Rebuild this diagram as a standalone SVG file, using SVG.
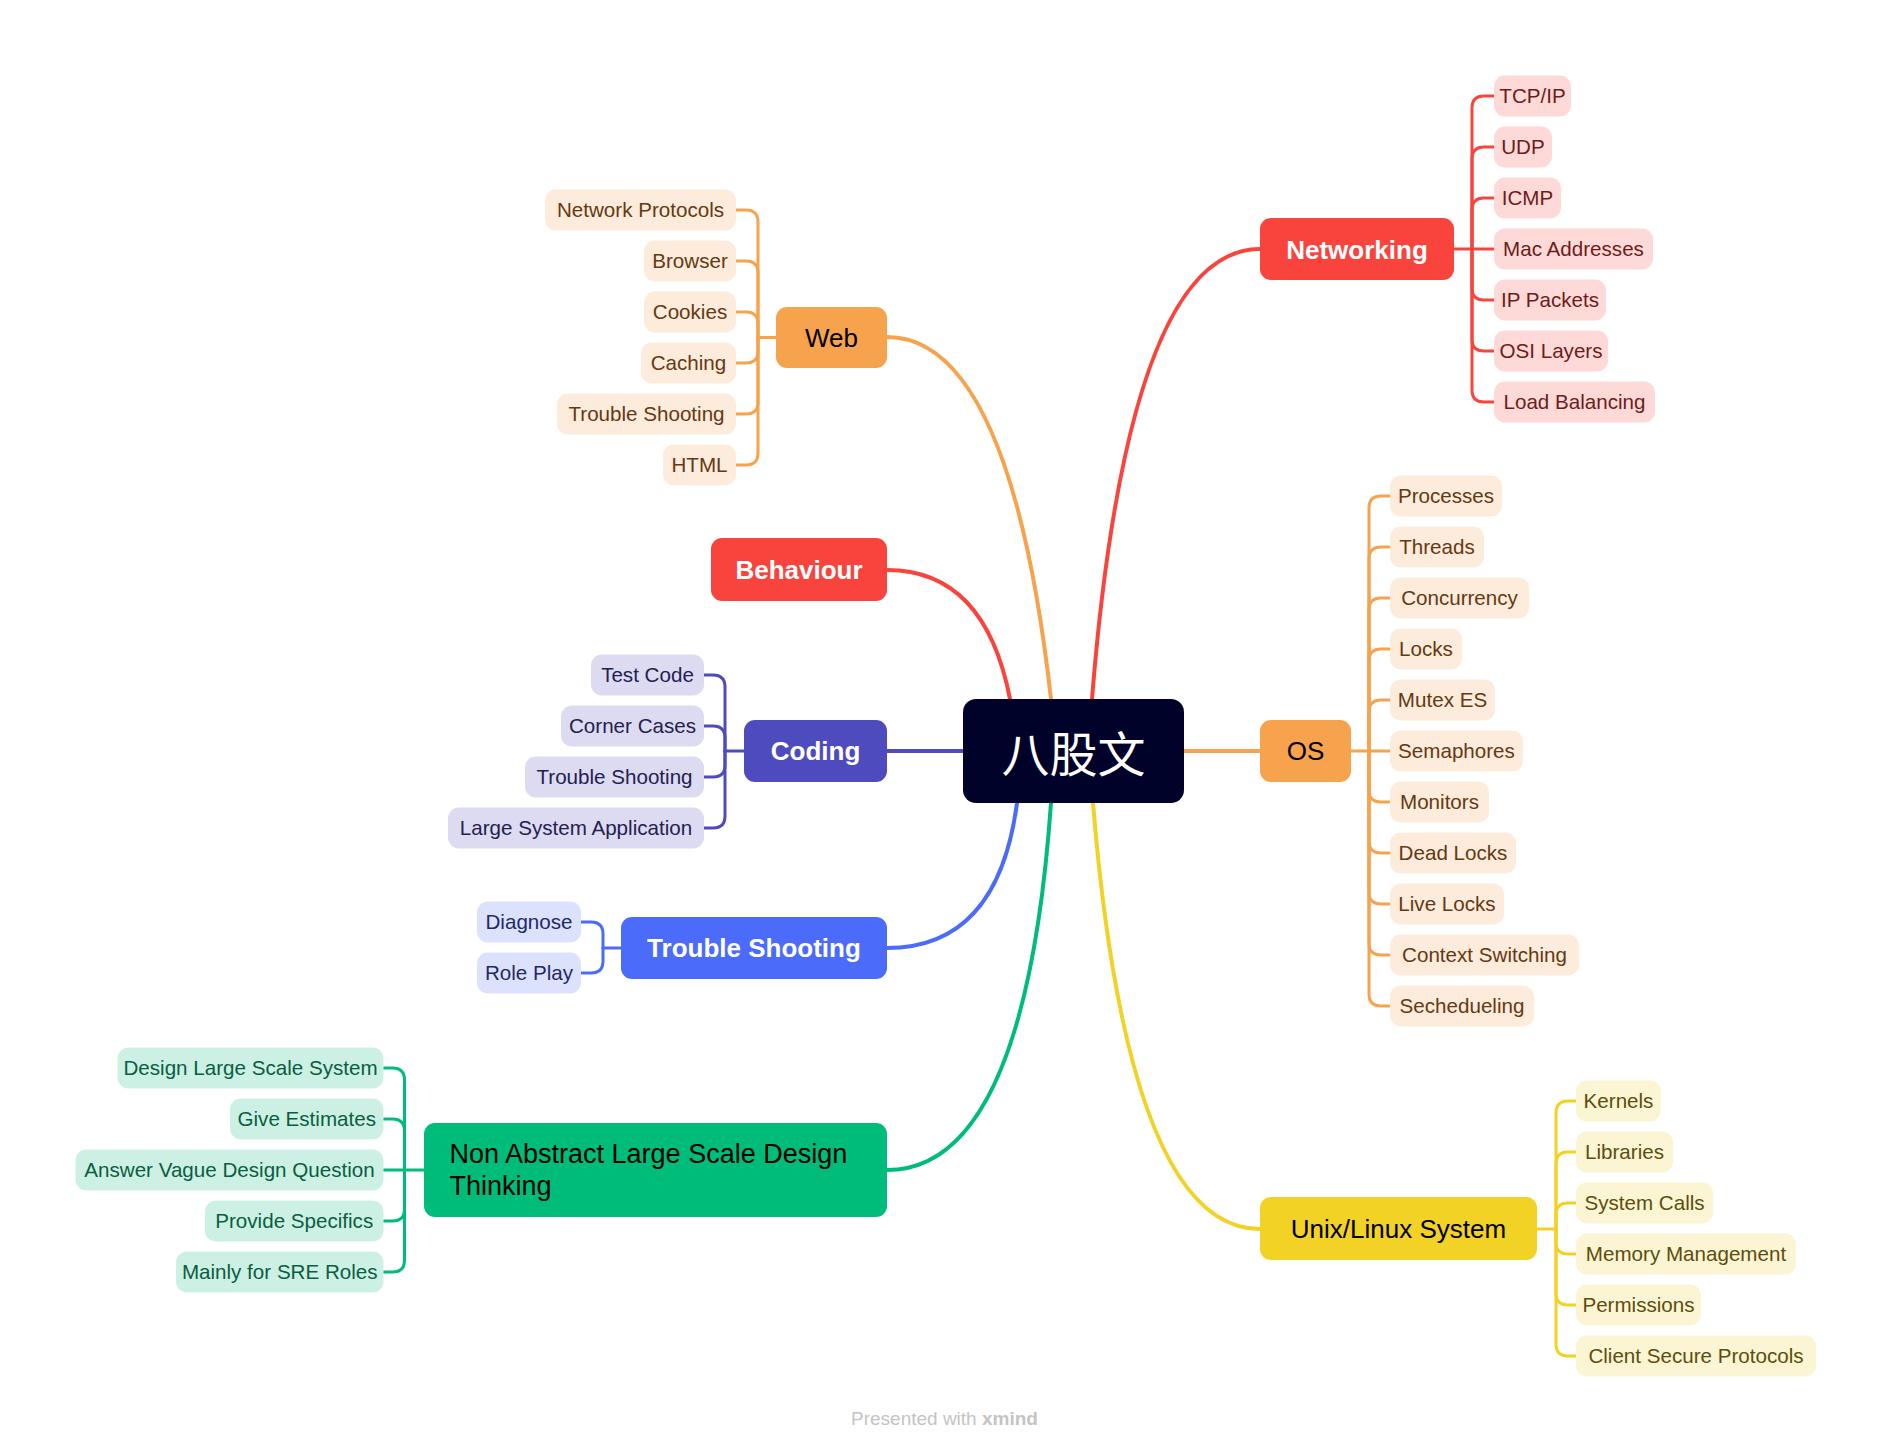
<svg xmlns="http://www.w3.org/2000/svg" width="1891" height="1452" viewBox="0 0 1891 1452">
<style>
text{font-family:"Liberation Sans",Arial,sans-serif}
.t{font-size:20.6px;text-anchor:middle}
.m{font-size:26px;text-anchor:middle}
.mb{font-size:26px;text-anchor:middle;font-weight:bold;fill:#fff}
.lnk{fill:none;stroke-width:4;stroke-linecap:round}
.br{fill:none;stroke-width:3;stroke-linecap:round;stroke-linejoin:round}
.red{stroke:#F9443E}.org{stroke:#F7A24D}.ind{stroke:#4E4BBF}.blu{stroke:#4B6BFB}.grn{stroke:#00BC7A}.yel{stroke:#F2D224}
.cr rect{fill:#FDDAD8}.cr text{fill:#6E1C18}
.co rect{fill:#FDEBDC}.co text{fill:#653912}
.ci rect{fill:#DCDBF2}.ci text{fill:#25214F}
.cb rect{fill:#DCE2FE}.cb text{fill:#1E2A66}
.cg rect{fill:#CCF1E4}.cg text{fill:#0A5E3F}
.cy rect{fill:#FCF5D4}.cy text{fill:#5C4E0C}
</style>
<rect width="1891" height="1452" fill="#fff"/>
<g id="connectors">
<path class="lnk red" d="M1260,249 Q1128,249 1092,699"/>
<path class="lnk org" d="M887,337 Q1010,337 1051,699"/>
<path class="lnk red" d="M887,570 Q985,570 1010,699"/>
<path class="lnk ind" d="M887,751 H963"/>
<path class="lnk org" d="M1184,751 H1260"/>
<path class="lnk blu" d="M887,948 Q998,948 1017,803"/>
<path class="lnk grn" d="M887,1170 Q1025,1170 1051,803"/>
<path class="lnk yel" d="M1260,1229 Q1128,1229 1093,803"/>
<g class="br red">
<path d="M1454,249 H1494"/>
<path d="M1472,249 V108 Q1472,96 1484,96 H1494"/>
<path d="M1472,249 V159 Q1472,147 1484,147 H1494"/>
<path d="M1472,249 V210 Q1472,198 1484,198 H1494"/>
<path d="M1472,249 V288 Q1472,300 1484,300 H1494"/>
<path d="M1472,249 V339 Q1472,351 1484,351 H1494"/>
<path d="M1472,249 V390 Q1472,402 1484,402 H1494"/>
</g>
<g class="br org">
<path d="M1351,751 H1390"/>
<path d="M1369,751 V508 Q1369,496 1381,496 H1390"/>
<path d="M1369,751 V559 Q1369,547 1381,547 H1390"/>
<path d="M1369,751 V610 Q1369,598 1381,598 H1390"/>
<path d="M1369,751 V661 Q1369,649 1381,649 H1390"/>
<path d="M1369,751 V712 Q1369,700 1381,700 H1390"/>
<path d="M1369,751 V790 Q1369,802 1381,802 H1390"/>
<path d="M1369,751 V841 Q1369,853 1381,853 H1390"/>
<path d="M1369,751 V892 Q1369,904 1381,904 H1390"/>
<path d="M1369,751 V943 Q1369,955 1381,955 H1390"/>
<path d="M1369,751 V994 Q1369,1006 1381,1006 H1390"/>
</g>
<g class="br yel">
<path d="M1537,1229 H1556"/>
<path d="M1556,1229 V1113 Q1556,1101 1568,1101 H1576"/>
<path d="M1556,1229 V1164 Q1556,1152 1568,1152 H1576"/>
<path d="M1556,1229 V1215 Q1556,1203 1568,1203 H1576"/>
<path d="M1556,1229 V1242 Q1556,1254 1568,1254 H1576"/>
<path d="M1556,1229 V1293 Q1556,1305 1568,1305 H1576"/>
<path d="M1556,1229 V1344 Q1556,1356 1568,1356 H1576"/>
</g>
<g class="br org">
<path d="M776,337.5 H758"/>
<path d="M758,337.5 V222 Q758,210 746,210 H736"/>
<path d="M758,337.5 V273 Q758,261 746,261 H736"/>
<path d="M758,337.5 V324 Q758,312 746,312 H736"/>
<path d="M758,337.5 V351 Q758,363 746,363 H736"/>
<path d="M758,337.5 V402 Q758,414 746,414 H736"/>
<path d="M758,337.5 V453 Q758,465 746,465 H736"/>
</g>
<g class="br ind">
<path d="M744,751 H725"/>
<path d="M725,751 V687 Q725,675 713,675 H704"/>
<path d="M725,751 V738 Q725,726 713,726 H704"/>
<path d="M725,751 V765 Q725,777 713,777 H704"/>
<path d="M725,751 V816 Q725,828 713,828 H704"/>
</g>
<g class="br blu">
<path d="M621,948 H603"/>
<path d="M603,948 V934 Q603,922 591,922 H581"/>
<path d="M603,948 V961 Q603,973 591,973 H581"/>
</g>
<g class="br grn">
<path d="M424,1170 H384"/>
<path d="M404.5,1170 V1080 Q404.5,1068 392.5,1068 H384"/>
<path d="M404.5,1170 V1131 Q404.5,1119 392.5,1119 H384"/>
<path d="M404.5,1170 V1209 Q404.5,1221 392.5,1221 H384"/>
<path d="M404.5,1170 V1260 Q404.5,1272 392.5,1272 H384"/>
</g>
</g>

<g id="central">
<rect x="963" y="699" width="221" height="104" rx="13" fill="#000229"/>
<text x="1073.5" y="772" font-size="48" text-anchor="middle" fill="#fff" style="font-family:'Noto Sans CJK SC','Noto Sans CJK JP',sans-serif">八股文</text>
</g>

<g id="networking">
<rect x="1260" y="218" width="194" height="62" rx="11" fill="#F9443E"/>
<text class="mb" x="1357" y="258.5">Networking</text>
</g>
<g id="networking-children" class="cr">
<g id="n-tcpip"><rect x="1494" y="75.5" width="77" height="41" rx="11"/><text class="t" x="1532.5" y="103">TCP/IP</text></g>
<g id="n-udp"><rect x="1494" y="126.5" width="58" height="41" rx="11"/><text class="t" x="1523" y="154">UDP</text></g>
<g id="n-icmp"><rect x="1494" y="177.5" width="67" height="41" rx="11"/><text class="t" x="1527.5" y="205">ICMP</text></g>
<g id="n-mac"><rect x="1494" y="228.5" width="159" height="41" rx="11"/><text class="t" x="1573.5" y="256">Mac Addresses</text></g>
<g id="n-ip"><rect x="1494" y="279.5" width="112" height="41" rx="11"/><text class="t" x="1550" y="307">IP Packets</text></g>
<g id="n-osi"><rect x="1494" y="330.5" width="114" height="41" rx="11"/><text class="t" x="1551" y="358">OSI Layers</text></g>
<g id="n-lb"><rect x="1494" y="381.5" width="161" height="41" rx="11"/><text class="t" x="1574.5" y="409">Load Balancing</text></g>
</g>

<g id="os">
<rect x="1260" y="720" width="91" height="62" rx="11" fill="#F7A24D"/>
<text class="m" x="1305.5" y="760">OS</text>
</g>
<g id="os-children" class="co">
<g id="o-processes"><rect x="1390" y="475.5" width="112" height="41" rx="11"/><text class="t" x="1446" y="503">Processes</text></g>
<g id="o-threads"><rect x="1390" y="526.5" width="94" height="41" rx="11"/><text class="t" x="1437" y="554">Threads</text></g>
<g id="o-concurrency"><rect x="1390" y="577.5" width="139" height="41" rx="11"/><text class="t" x="1459.5" y="605">Concurrency</text></g>
<g id="o-locks"><rect x="1390" y="628.5" width="72" height="41" rx="11"/><text class="t" x="1426" y="656">Locks</text></g>
<g id="o-mutex"><rect x="1390" y="679.5" width="105" height="41" rx="11"/><text class="t" x="1442.5" y="707">Mutex ES</text></g>
<g id="o-semaphores"><rect x="1390" y="730.5" width="133" height="41" rx="11"/><text class="t" x="1456.5" y="758">Semaphores</text></g>
<g id="o-monitors"><rect x="1390" y="781.5" width="99" height="41" rx="11"/><text class="t" x="1439.5" y="809">Monitors</text></g>
<g id="o-deadlocks"><rect x="1390" y="832.5" width="126" height="41" rx="11"/><text class="t" x="1453" y="860">Dead Locks</text></g>
<g id="o-livelocks"><rect x="1390" y="883.5" width="114" height="41" rx="11"/><text class="t" x="1447" y="911">Live Locks</text></g>
<g id="o-context"><rect x="1390" y="934.5" width="189" height="41" rx="11"/><text class="t" x="1484.5" y="962">Context Switching</text></g>
<g id="o-sched"><rect x="1390" y="985.5" width="144" height="41" rx="11"/><text class="t" x="1462" y="1013">Sechedueling</text></g>
</g>

<g id="unix">
<rect x="1260" y="1197" width="277" height="63" rx="11" fill="#F2D224"/>
<text class="m" x="1398.5" y="1238">Unix/Linux System</text>
</g>
<g id="unix-children" class="cy">
<g id="u-kernels"><rect x="1576" y="1080.5" width="85" height="41" rx="11"/><text class="t" x="1618.5" y="1108">Kernels</text></g>
<g id="u-libraries"><rect x="1576" y="1131.5" width="97" height="41" rx="11"/><text class="t" x="1624.5" y="1159">Libraries</text></g>
<g id="u-syscalls"><rect x="1576" y="1182.5" width="137" height="41" rx="11"/><text class="t" x="1644.5" y="1210">System Calls</text></g>
<g id="u-memory"><rect x="1576" y="1233.5" width="220" height="41" rx="11"/><text class="t" x="1686" y="1261">Memory Management</text></g>
<g id="u-perms"><rect x="1576" y="1284.5" width="125" height="41" rx="11"/><text class="t" x="1638.5" y="1312">Permissions</text></g>
<g id="u-client"><rect x="1576" y="1335.5" width="240" height="41" rx="11"/><text class="t" x="1696" y="1363">Client Secure Protocols</text></g>
</g>

<g id="web">
<rect x="776" y="307" width="111" height="61" rx="11" fill="#F7A24D"/>
<text class="m" x="831.5" y="347">Web</text>
</g>
<g id="web-children" class="co">
<g id="w-netproto"><rect x="545" y="189.5" width="191" height="41" rx="11"/><text class="t" x="640.5" y="217">Network Protocols</text></g>
<g id="w-browser"><rect x="644" y="240.5" width="92" height="41" rx="11"/><text class="t" x="690" y="268">Browser</text></g>
<g id="w-cookies"><rect x="644" y="291.5" width="92" height="41" rx="11"/><text class="t" x="690" y="319">Cookies</text></g>
<g id="w-caching"><rect x="641" y="342.5" width="95" height="41" rx="11"/><text class="t" x="688.5" y="370">Caching</text></g>
<g id="w-trouble"><rect x="557" y="393.5" width="179" height="41" rx="11"/><text class="t" x="646.5" y="421">Trouble Shooting</text></g>
<g id="w-html"><rect x="663" y="444.5" width="73" height="41" rx="11"/><text class="t" x="699.5" y="472">HTML</text></g>
</g>

<g id="behaviour">
<rect x="711" y="538" width="176" height="63" rx="11" fill="#F9443E"/>
<text class="mb" x="799" y="579">Behaviour</text>
</g>

<g id="coding">
<rect x="744" y="720" width="143" height="62" rx="11" fill="#4E4BBF"/>
<text class="mb" x="815.5" y="760">Coding</text>
</g>
<g id="coding-children" class="ci">
<g id="c-test"><rect x="591" y="654.5" width="113" height="41" rx="11"/><text class="t" x="647.5" y="682">Test Code</text></g>
<g id="c-corner"><rect x="561" y="705.5" width="143" height="41" rx="11"/><text class="t" x="632.5" y="733">Corner Cases</text></g>
<g id="c-trouble"><rect x="525" y="756.5" width="179" height="41" rx="11"/><text class="t" x="614.5" y="784">Trouble Shooting</text></g>
<g id="c-large"><rect x="448" y="807.5" width="256" height="41" rx="11"/><text class="t" x="576" y="835">Large System Application</text></g>
</g>

<g id="troubleshooting">
<rect x="621" y="917" width="266" height="62" rx="11" fill="#4B6BFB"/>
<text class="mb" x="754" y="957">Trouble Shooting</text>
</g>
<g id="trouble-children" class="cb">
<g id="t-diagnose"><rect x="477" y="901.5" width="104" height="41" rx="11"/><text class="t" x="529" y="929">Diagnose</text></g>
<g id="t-roleplay"><rect x="477" y="952.5" width="104" height="41" rx="11"/><text class="t" x="529" y="980">Role Play</text></g>
</g>

<g id="nonabstract">
<rect x="424" y="1123" width="463" height="94" rx="11" fill="#00BC7A"/>
<text x="449.5" y="1163" font-size="27" fill="#000">Non Abstract Large Scale Design</text>
<text x="449.5" y="1195" font-size="27" fill="#000">Thinking</text>
</g>
<g id="nonabstract-children" class="cg">
<g id="g-design"><rect x="117.5" y="1047.5" width="266" height="41" rx="11"/><text class="t" x="250.5" y="1075">Design Large Scale System</text></g>
<g id="g-estimates"><rect x="230" y="1098.5" width="153.5" height="41" rx="11"/><text class="t" x="306.75" y="1126">Give Estimates</text></g>
<g id="g-vague"><rect x="75.5" y="1149.5" width="308" height="41" rx="11"/><text class="t" x="229.5" y="1177">Answer Vague Design Question</text></g>
<g id="g-specifics"><rect x="205" y="1200.5" width="178.5" height="41" rx="11"/><text class="t" x="294.25" y="1228">Provide Specifics</text></g>
<g id="g-sre"><rect x="176" y="1251.5" width="207.5" height="41" rx="11"/><text class="t" x="279.75" y="1279">Mainly for SRE Roles</text></g>
</g>

<text x="851" y="1425" font-size="19" fill="#C4C4C4">Presented with <tspan font-weight="bold">xmind</tspan></text>
</svg>
